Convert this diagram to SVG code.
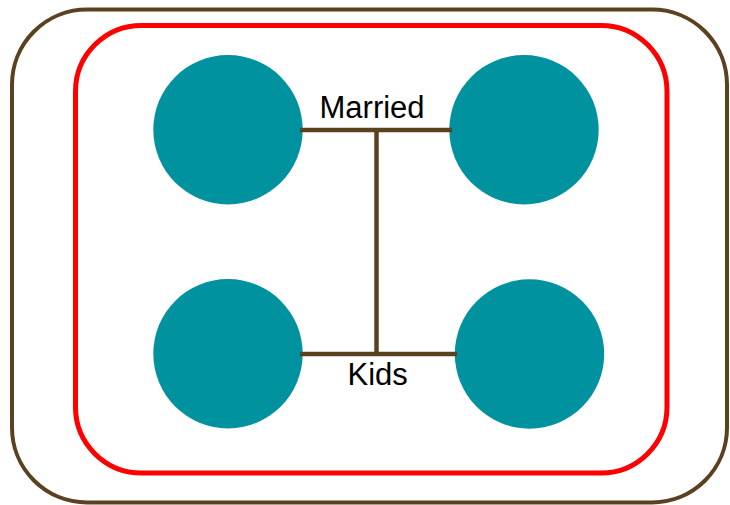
<svg xmlns="http://www.w3.org/2000/svg" width="730" height="505" viewBox="0 0 730 505">
<style>
.node{fill:#00929F;}
.conn{stroke:#5A4220;stroke-width:4.5;fill:none;}
.lbl{font-family:"Liberation Sans",Arial,sans-serif;font-size:31px;fill:#000;}
</style>
<rect width="730" height="505" fill="#fff"/>
<g id="outer"><rect x="12" y="9.5" width="715" height="493" rx="75" ry="75" fill="none" stroke="#5A4220" stroke-width="4"/></g>
<g id="inner"><rect x="75.5" y="25.5" width="591.5" height="447.5" rx="66" ry="66" fill="none" stroke="#FF0000" stroke-width="5"/></g>
<g id="n1"><circle class="node" cx="228" cy="129.7" r="74.7"/></g>
<g id="n2"><circle class="node" cx="524" cy="129.7" r="74.7"/></g>
<g id="n3"><circle class="node" cx="228" cy="353.7" r="74.7"/></g>
<g id="n4"><circle class="node" cx="529.5" cy="354" r="74.7"/></g>
<g id="connectors">
<line class="conn" x1="300" y1="130" x2="452" y2="130"/>
<line class="conn" x1="376.5" y1="130" x2="376.5" y2="354"/>
<line class="conn" x1="300" y1="354" x2="457" y2="354"/>
</g>
<g id="labels">
<text class="lbl" x="319.5" y="117.5">Married</text>
<text class="lbl" x="347.5" y="385">Kids</text>
</g>
</svg>
